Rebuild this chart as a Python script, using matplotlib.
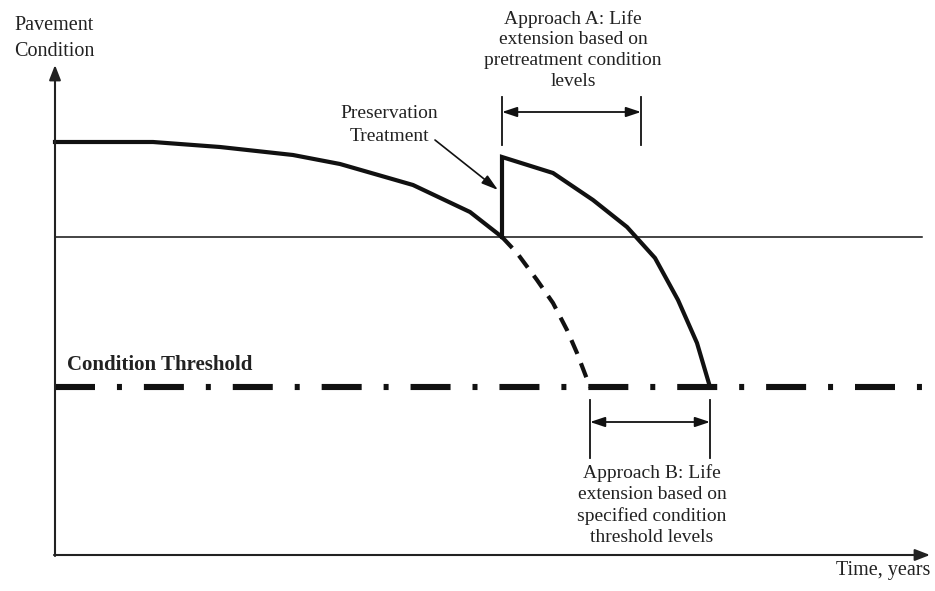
import matplotlib
matplotlib.use('Agg')
import matplotlib.pyplot as plt

plt.rcParams['font.family'] = 'Liberation Serif'
plt.rcParams['lines.scale_dashes'] = False

# schematic data (time units, condition units)
t_orig = [0, 9.8, 16.5, 23.8, 28.5, 35.8, 41.5, 44.7]
c_orig = [82.6, 82.6, 81.6, 80.0, 78.2, 74.0, 68.6, 63.6]

t_untreated = [44.7, 46.2, 48.2, 49.8, 51.2, 52.2, 53.5]
c_untreated = [63.6, 60.4, 55.0, 50.4, 45.0, 40.4, 33.6]

t_treated = [44.7, 44.7, 49.8, 53.8, 57.2, 60.0, 62.3, 64.2, 65.5]
c_treated = [63.6, 79.6, 76.4, 71.0, 65.6, 59.4, 51.0, 42.4, 33.6]

pretreat_level = 63.6
threshold = 33.6
t_end = 86.7

approach_a = [44.7, 58.6]
approach_b = [53.5, 65.5]

fig = plt.figure(figsize=(9.35, 5.91), dpi=100)
ax = fig.add_axes([0, 0, 1, 1])
ax.set_xlim(-5.5, 88)
ax.set_ylim(-7.2, 111)
ax.set_axis_off()

# axes arrows
ax.annotate('', xy=(0, 98), xytext=(0, -0.2),
            arrowprops=dict(arrowstyle='-|>,head_length=0.9,head_width=0.35', color='#222222', lw=1.5,
                            shrinkA=0, shrinkB=0))
ax.annotate('', xy=(87.5, 0), xytext=(-0.1, 0),
            arrowprops=dict(arrowstyle='-|>,head_length=0.9,head_width=0.35', color='#222222', lw=1.5,
                            shrinkA=0, shrinkB=0))

# pretreatment level line and threshold
ax.plot([0, t_end], [pretreat_level, pretreat_level], color='#111111', lw=1.1)
ax.plot([0, t_end], [threshold, threshold], color='#111111', lw=4.4,
        dashes=(28.8, 15.8, 3.6, 15.8), dash_capstyle='butt')

# condition curves
ax.plot(t_orig, c_orig, color='#111111', lw=3, solid_joinstyle='miter')
ax.plot(t_untreated, c_untreated, color='#111111', lw=3, dashes=(10.8, 7.2), dash_capstyle='butt')
ax.plot(t_treated, c_treated, color='#111111', lw=3, solid_joinstyle='miter')

# approach A
for x in approach_a:
    ax.plot([x, x], [82, 91.6], color='#111111', lw=1.3)
ax.annotate('', xy=(approach_a[1], 88.6), xytext=(approach_a[0], 88.6),
            arrowprops=dict(arrowstyle='<|-|>,head_length=0.9,head_width=0.3', color='#111111', lw=1.3,
                            shrinkA=0, shrinkB=0))
ax.text(51.8, 101, 'Approach A: Life\nextension based on\npretreatment condition\nlevels',
        ha='center', va='center', fontsize=14, linespacing=1.3, color='#222222')

# approach B
for x in approach_b:
    ax.plot([x, x], [19.4, 31], color='#111111', lw=1.3)
ax.annotate('', xy=(approach_b[1], 26.6), xytext=(approach_b[0], 26.6),
            arrowprops=dict(arrowstyle='<|-|>,head_length=0.9,head_width=0.3', color='#111111', lw=1.3,
                            shrinkA=0, shrinkB=0))
ax.text(59.7, 10, 'Approach B: Life\nextension based on\nspecified condition\nthreshold levels',
        ha='center', va='center', fontsize=14, linespacing=1.3, color='#222222')

# preservation treatment
ax.text(33.4, 86.0, 'Preservation\nTreatment', ha='center', va='center', fontsize=14,
        linespacing=1.45, color='#222222')
ax.annotate('', xy=(44.3, 73), xytext=(38.0, 83),
            arrowprops=dict(arrowstyle='-|>,head_length=1.0,head_width=0.3', color='#111111', lw=1.2,
                            shrinkA=0, shrinkB=0))

ax.text(1.2, 38, 'Condition Threshold', ha='left', va='center', fontsize=15,
        fontweight='bold', color='#222222')
ax.text(-0.1, 103.3, 'Pavement\nCondition', ha='center', va='center', fontsize=14.5,
        linespacing=1.5, color='#222222')
ax.text(87.5, -3.2, 'Time, years', ha='right', va='center', fontsize=14.5, color='#222222')

fig.savefig('out.png', dpi=100)
